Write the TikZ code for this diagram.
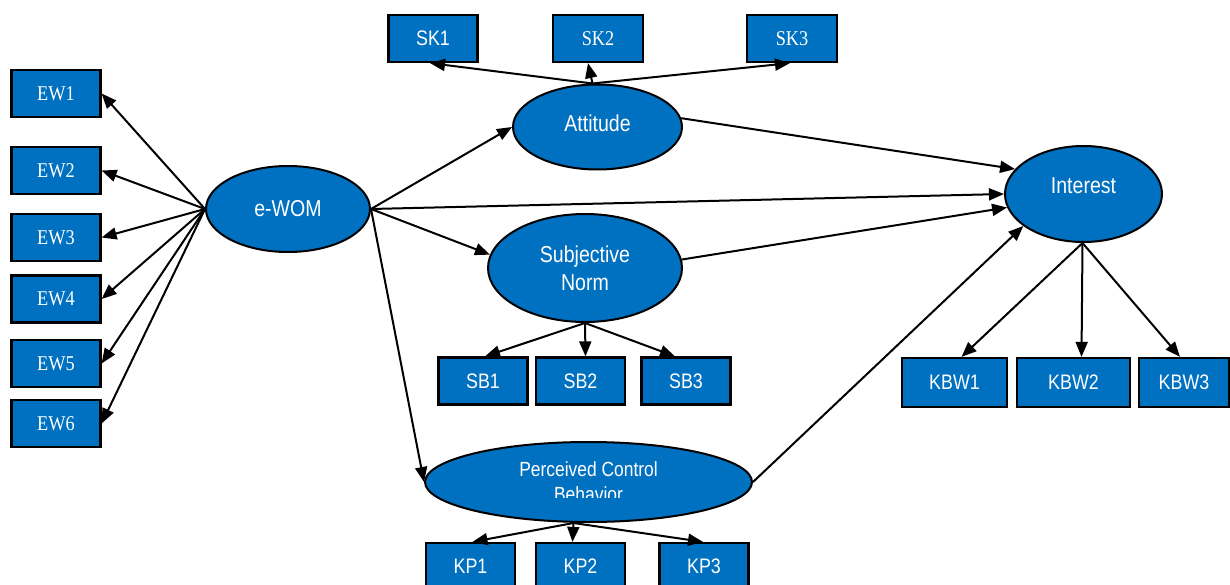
\documentclass[tikz,border=0pt]{standalone}
\usepackage{fontspec}
\setmainfont[FakeStretch=0.87]{Liberation Serif}
\newfontfamily\arialn[FakeStretch=0.85]{Liberation Sans}
\usetikzlibrary{shapes.geometric,arrows.meta}
\definecolor{myblue}{RGB}{0,112,192}
\begin{document}
\begin{tikzpicture}[x=1pt,y=-1pt,
  box/.style={rectangle,draw=black,line width=2.2pt,fill=myblue,text=white,
    minimum width=89pt,minimum height=47pt,inner sep=0pt},
  serifbox/.style={box,font=\fontsize{21}{22}\selectfont},
  sansbox/.style={box,font=\arialn\fontsize{21}{22}\selectfont},
  lat/.style={ellipse,draw=black,line width=2pt,fill=myblue,text=white,inner sep=0pt,
    font=\arialn\fontsize{23}{28}\selectfont,align=center},
  lbl/.style={text=white,inner sep=0pt,align=center},
  arr/.style={line width=2pt,-{Triangle[length=15pt,width=12pt]}}
]
\useasboundingbox (0,0) rectangle (1230,585);
% indicator boxes
\node[serifbox] (ew1) at (56,93.5) {EW1};
\node[serifbox] (ew2) at (56,170.5) {EW2};
\node[serifbox] (ew3) at (56,237.5) {EW3};
\node[serifbox] (ew4) at (56,299) {EW4};
\node[serifbox] (ew5) at (56,363.5) {EW5};
\node[serifbox] (ew6) at (56,423.5) {EW6};
\node[sansbox] (sk1) at (433,38.5) {SK1};
\node[serifbox,minimum width=90pt] (sk2) at (598,38.5) {SK2};
\node[serifbox,minimum width=90pt] (sk3) at (792,38.5) {SK3};
\node[sansbox] (sb1) at (483,381) {SB1};
\node[sansbox] (sb2) at (580.5,381) {SB2};
\node[sansbox] (sb3) at (686,381) {SB3};
\node[sansbox,minimum width=105pt,minimum height=49pt] (kbw1) at (954.5,382.5) {KBW1};
\node[sansbox,minimum width=113pt,minimum height=49pt] (kbw2) at (1073.5,382.5) {KBW2};
\node[sansbox,minimum width=90pt,minimum height=49pt] (kbw3) at (1184,382.5) {KBW3};
\node[sansbox] (kp1) at (470.5,566.5) {KP1};
\node[sansbox] (kp2) at (580.5,566.5) {KP2};
\node[sansbox] (kp3) at (704,566.5) {KP3};
% latent variables
\node[lat,minimum width=164pt,minimum height=86pt] (ewom) at (288,209) {e-WOM};
\node[lat,minimum width=169pt,minimum height=85pt] (att) at (597.5,127) {};
\node[lbl,font=\arialn\fontsize{23}{28}\selectfont] (atttxt) at (597.5,123) {Attitude};
\node[lat,minimum width=157pt,minimum height=96pt] (int) at (1083.5,194) {};
\node[lbl,font=\arialn\fontsize{23}{28}\selectfont] (inttxt) at (1083.5,186) {Interest};
\node[lat,minimum width=194pt,minimum height=108pt] (sn) at (585,268) {Subjective\\Norm};
\node[lat,minimum width=327pt,minimum height=80pt] (pcb) at (588.5,482) {};
\begin{scope}
\clip (420,440) rectangle (760,497);
\node[lbl,font=\arialn\fontsize{20.5}{25}\selectfont] (pcbtxt) at (588.5,481.5) {Perceived Control\\Behavior};
\end{scope}
% e-WOM to indicators
\foreach \b in {ew1,ew2,ew3,ew4,ew5,ew6}
  \draw[arr] (ewom.west) -- (\b.east);
% structural paths
\draw[arr] (ewom.east) -- (att.west);
\draw[arr] (ewom.east) -- (int.west);
\draw[arr] (ewom.east) -- (sn.172);
\draw[arr] (ewom.east) -- (pcb.west);
\draw[arr] (att.6) -- (int.160);
\draw[arr] (sn.5) -- (int.190);
\draw[arr] (pcb.east) -- (int.208);
% attitude indicators
\draw[arr] ([xshift=-5pt]att.north) -- ([xshift=-3pt]sk1.south);
\draw[arr] ([xshift=-5pt]att.north) -- ([xshift=-10pt]sk2.south);
\draw[arr] ([xshift=-5pt]att.north) -- ([xshift=-2pt]sk3.south);
% subjective norm indicators
\draw[arr] (sn.south) -- ([xshift=2pt]sb1.north);
\draw[arr] (sn.south) -- ([xshift=5pt]sb2.north);
\draw[arr] (sn.south) -- ([xshift=-11pt]sb3.north);
% pcb indicators
\draw[arr] ([xshift=-15pt]pcb.south) -- ([xshift=2pt]kp1.north);
\draw[arr] ([xshift=-15pt]pcb.south) -- ([xshift=-8pt]kp2.north);
\draw[arr] ([xshift=-15pt]pcb.south) -- ([xshift=-1pt]kp3.north);
% interest indicators
\draw[arr] ([xshift=-1pt]int.south) -- ([xshift=7pt]kbw1.north);
\draw[arr] ([xshift=-1pt]int.south) -- ([xshift=8pt]kbw2.north);
\draw[arr] ([xshift=-1pt]int.south) -- ([xshift=-4pt]kbw3.north);
\end{tikzpicture}
\end{document}
